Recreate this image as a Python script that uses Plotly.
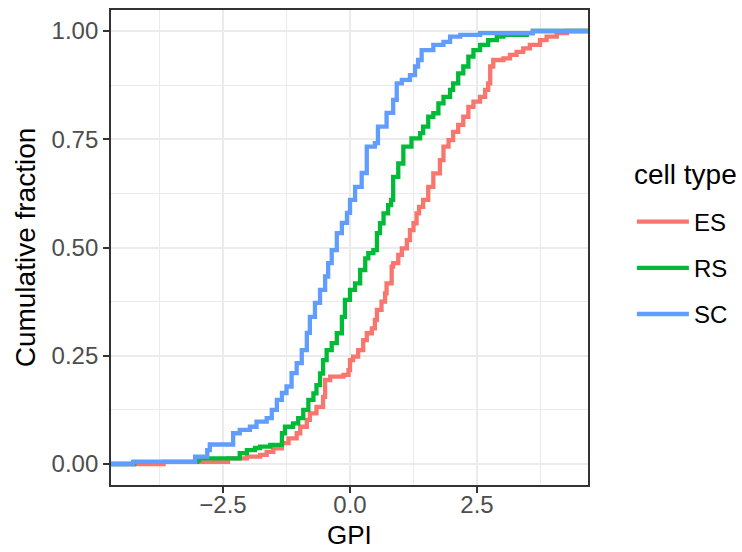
import plotly.graph_objects as go

# ---- data ----
cell_types = ["ES", "RS", "SC"]
colors = {"ES": "#F8766D", "RS": "#00BA38", "SC": "#619CFF"}

ES_x = [-3.67, -2.40, -2.03, -1.77, -1.64, -1.51, -1.34, -1.21, -1.05, -0.98, -0.85, -0.79, -0.66, -0.53,
        -0.49, -0.39, -0.13, -0.03, 0.00, 0.06, 0.16, 0.26, 0.33, 0.43, 0.49, 0.53, 0.62, 0.69, 0.72, 0.82,
        0.85, 0.95, 1.02, 1.12, 1.18, 1.25, 1.31, 1.36, 1.44, 1.54, 1.64, 1.77, 1.84, 1.94, 2.03, 2.13, 2.23,
        2.33, 2.43, 2.56, 2.66, 2.72, 2.76, 2.82, 3.02, 3.15, 3.28, 3.41, 3.54, 3.74, 3.87, 4.07, 4.27]
ES_y = [0.005, 0.013, 0.017, 0.021, 0.028, 0.036, 0.048, 0.059, 0.071, 0.086, 0.102, 0.117, 0.132, 0.155,
        0.194, 0.202, 0.206, 0.217, 0.240, 0.248, 0.263, 0.286, 0.302, 0.313, 0.333, 0.356, 0.375, 0.394,
        0.417, 0.456, 0.464, 0.483, 0.498, 0.517, 0.540, 0.556, 0.579, 0.594, 0.610, 0.640, 0.671, 0.702,
        0.733, 0.748, 0.767, 0.783, 0.802, 0.825, 0.837, 0.848, 0.864, 0.879, 0.918, 0.933, 0.937, 0.945,
        0.952, 0.960, 0.968, 0.979, 0.987, 0.995, 1.0]

RS_x = [-4.25, -3.01, -2.97, -2.17, -2.03, -1.87, -1.77, -1.57, -1.34, -1.28, -1.12, -1.02, -0.92, -0.82,
        -0.72, -0.66, -0.59, -0.53, -0.46, -0.36, -0.26, -0.16, -0.10, 0.00, 0.10, 0.20, 0.30, 0.36, 0.46,
        0.53, 0.59, 0.66, 0.75, 0.81, 0.85, 0.95, 1.05, 1.21, 1.38, 1.44, 1.54, 1.64, 1.74, 1.84, 1.97, 2.03,
        2.13, 2.23, 2.33, 2.43, 2.56, 2.72, 2.89, 3.02, 3.48, 3.60]
RS_y = [0.005, 0.009, 0.013, 0.025, 0.032, 0.037, 0.040, 0.044, 0.071, 0.086, 0.094, 0.106, 0.125, 0.148,
        0.163, 0.182, 0.209, 0.240, 0.263, 0.279, 0.302, 0.340, 0.379, 0.402, 0.417, 0.448, 0.475, 0.487,
        0.494, 0.533, 0.556, 0.579, 0.598, 0.610, 0.663, 0.694, 0.733, 0.752, 0.764, 0.779, 0.802, 0.810,
        0.833, 0.848, 0.864, 0.879, 0.902, 0.918, 0.941, 0.956, 0.968, 0.979, 0.987, 0.991, 0.995, 1.0]

SC_x = [-4.27, -3.05, -2.81, -2.76, -2.30, -2.17, -1.97, -1.84, -1.64, -1.54, -1.44, -1.34, -1.25, -1.15,
        -1.05, -0.95, -0.85, -0.79, -0.69, -0.59, -0.49, -0.43, -0.36, -0.26, -0.16, -0.06, 0.00, 0.10, 0.23,
        0.33, 0.49, 0.55, 0.72, 0.85, 0.92, 1.02, 1.18, 1.28, 1.34, 1.41, 1.64, 1.84, 1.97, 2.17, 2.56, 3.60]
SC_y = [0.005, 0.017, 0.032, 0.045, 0.071, 0.079, 0.086, 0.098, 0.106, 0.125, 0.148, 0.164, 0.179, 0.210,
        0.233, 0.263, 0.303, 0.340, 0.372, 0.402, 0.433, 0.464, 0.494, 0.533, 0.557, 0.580, 0.610, 0.640,
        0.672, 0.733, 0.741, 0.779, 0.811, 0.841, 0.879, 0.887, 0.898, 0.918, 0.933, 0.956, 0.968, 0.975,
        0.987, 0.991, 0.995, 1.0]

series = {"ES": (ES_x, ES_y), "RS": (RS_x, RS_y), "SC": (SC_x, SC_y)}

x_ticks = [-2.5, 0.0, 2.5]
x_ticklabels = ["\u22122.5", "0.0", "2.5"]
x_minor = [-3.75, -1.25, 1.25, 3.75]
y_ticks = [0.0, 0.25, 0.5, 0.75, 1.0]
y_ticklabels = ["0.00", "0.25", "0.50", "0.75", "1.00"]
y_minor = [0.125, 0.375, 0.625, 0.875]

INF = 1e3  # stands in for -Inf / +Inf padding of the ECDF

FONT = "Liberation Sans, Arial, sans-serif"

fig = go.Figure()
for ct in cell_types:
    xs, ys = series[ct]
    fig.add_trace(go.Scatter(
        x=[-INF] + xs + [INF], y=[0.0] + ys + [1.0],
        mode="lines", line=dict(color=colors[ct], width=4.3, shape="hv"),
        name=ct, legendgroup=ct,
    ))

axis_common = dict(
    showgrid=True, gridcolor="#EBEBEB", gridwidth=1.8,
    showline=True, mirror=True, linecolor="#333333", linewidth=1.8,
    ticks="outside", ticklen=6, tickwidth=1.8, tickcolor="#333333",
    tickfont=dict(family=FONT, size=24, color="#4D4D4D"),
    zeroline=False, automargin=False,
)

fig.update_xaxes(
    **axis_common, range=[-4.705, 4.685],
    tickmode="array", tickvals=x_ticks, ticktext=x_ticklabels,
    ticklabelstandoff=-9,
    minor=dict(tickmode="array", tickvals=x_minor, showgrid=True,
               gridcolor="#EBEBEB", gridwidth=0.9, ticks=""),
)
fig.update_yaxes(
    **axis_common, range=[-0.0485, 1.0485],
    tickmode="array", tickvals=y_ticks, ticktext=y_ticklabels,
    minor=dict(tickmode="array", tickvals=y_minor, showgrid=True,
               gridcolor="#EBEBEB", gridwidth=0.9, ticks=""),
    title=dict(text="Cumulative fraction", font=dict(family=FONT, size=28, color="black"), standoff=8),
)

fig.update_layout(
    width=742, height=552,
    margin=dict(l=111, r=154, t=10, b=67, autoexpand=False),
    plot_bgcolor="white", paper_bgcolor="white",
    font=dict(family=FONT),
    legend=dict(
        font=dict(family=FONT, size=24, color="black"),
        x=1.092, xanchor="left", y=0.601, yanchor="top",
        tracegroupgap=12, itemwidth=52,
        bgcolor="rgba(0,0,0,0)",
    ),
    annotations=[
        dict(text="cell type", xref="paper", yref="paper", x=1.092, y=0.653,
             xanchor="left", yanchor="middle", showarrow=False,
             font=dict(family=FONT, size=28, color="black")),
        dict(text="GPI", xref="paper", yref="paper", x=0.5, y=-0.1395,
             xanchor="center", yanchor="bottom", showarrow=False, borderpad=0,
             font=dict(family=FONT, size=26, color="black")),
    ],
)

fig.write_html("out.html")
